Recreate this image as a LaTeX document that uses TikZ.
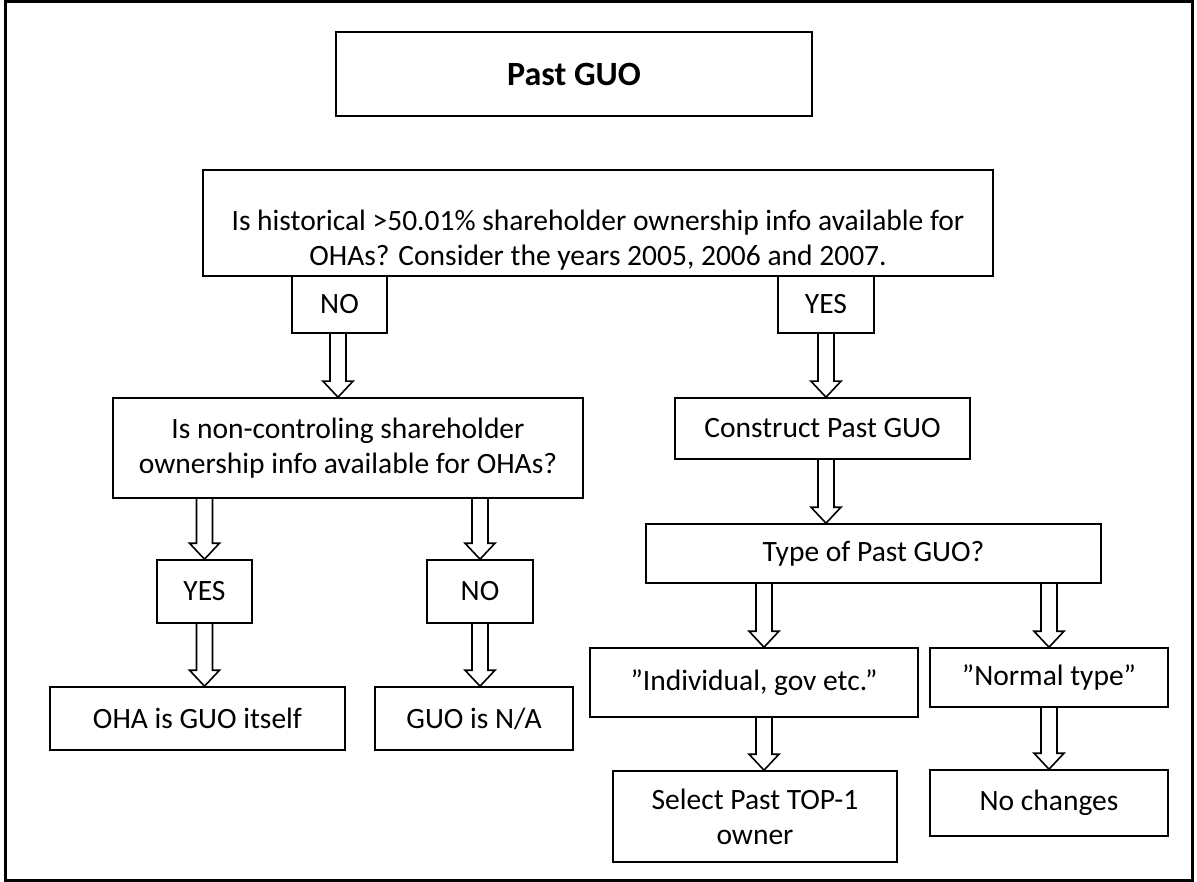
\documentclass[tikz,border=0pt]{standalone}
\usepackage{fontspec}
\setmainfont{Carlito}
\usetikzlibrary{calc,positioning}
\tikzset{
  box/.style={draw, line width=1.6pt, align=center, text centered, inner sep=0pt,
  font=\fontsize{29.5}{35}\selectfont},
  fatarr/.style={draw, line width=1.6pt, line join=miter},
  frame/.style={draw, line width=3pt}
}
\newcommand{\fatarrow}[3][0]{%
  \draw[fatarr] ($(#3.north |- #2.south)+(#1-8,0)$) -- ($(#3.north)+(#1-8,-16)$)
    -- ($(#3.north)+(#1-15,-16)$) -- ($(#3.north)+(#1,0)$)
    -- ($(#3.north)+(#1+15,-16)$) -- ($(#3.north)+(#1+8,-16)$)
    -- ($(#3.north |- #2.south)+(#1+8,0)$);}

\begin{document}
\begin{tikzpicture}[x=1pt,y=-1pt]
\useasboundingbox (0,0) rectangle (1197,882);
\draw[frame] (5,2) rectangle (1192,880);

\node[box, minimum width=476pt, minimum height=84pt, font=\fontsize{34}{40}\selectfont\bfseries] (title) at (574,74) {Past GUO};
\node[box, minimum width=790pt, minimum height=106pt] (hist) at (598,223)
  {\rule{0pt}{54pt}Is historical >50.01\% shareholder ownership info available for\\OHAs? Consider the years 2005, 2006 and 2007.};
\node[box, minimum width=95pt, minimum height=57pt] (histno) at (339.5,304.5) {NO};
\node[box, minimum width=96pt, minimum height=57pt] (histyes) at (826,304.5) {YES};

\node[box, minimum width=470pt, minimum height=100pt] (nonctrl) at (348,448)
  {Is non-controling shareholder\\ownership info available for OHAs?};
\node[box, minimum width=95pt, minimum height=63pt] (ncyes) at (204.5,591.5) {YES};
\node[box, minimum width=106pt, minimum height=63pt] (ncno) at (480,591.5) {NO};
\node[box, minimum width=295pt, minimum height=63pt] (itself) at (197.5,718.5) {OHA is GUO itself};
\node[box, minimum width=198pt, minimum height=63pt] (guona) at (474,718.5) {GUO is N/A};

\node[box, minimum width=295pt, minimum height=61pt] (construct) at (822.5,428.5) {Construct Past GUO};
\node[box, minimum width=455pt, minimum height=59pt] (type) at (873.5,553.5) {Type of Past GUO?};
\node[box, minimum width=328pt, minimum height=69pt] (indiv) at (754,682.5) {”Individual, gov etc.”};
\node[box, minimum width=238pt, minimum height=59pt] (normal) at (1049,677.5) {”Normal type”};
\node[box, minimum width=284pt, minimum height=91pt] (top1) at (755,816.5) {Select Past TOP-1\\owner};
\node[box, minimum width=238pt, minimum height=66pt] (nochange) at (1049,803) {No changes};

\fatarrow[-10]{histno}{nonctrl}
\fatarrow{nonctrl}{ncyes}
\fatarrow{nonctrl}{ncno}
\fatarrow[7]{ncyes}{itself}
\fatarrow[6]{ncno}{guona}
\fatarrow[3.5]{histyes}{construct}
\fatarrow[-47.5]{construct}{type}
\fatarrow[10]{type}{indiv}
\fatarrow{type}{normal}
\fatarrow[9]{indiv}{top1}
\fatarrow{normal}{nochange}
\end{tikzpicture}
\end{document}
